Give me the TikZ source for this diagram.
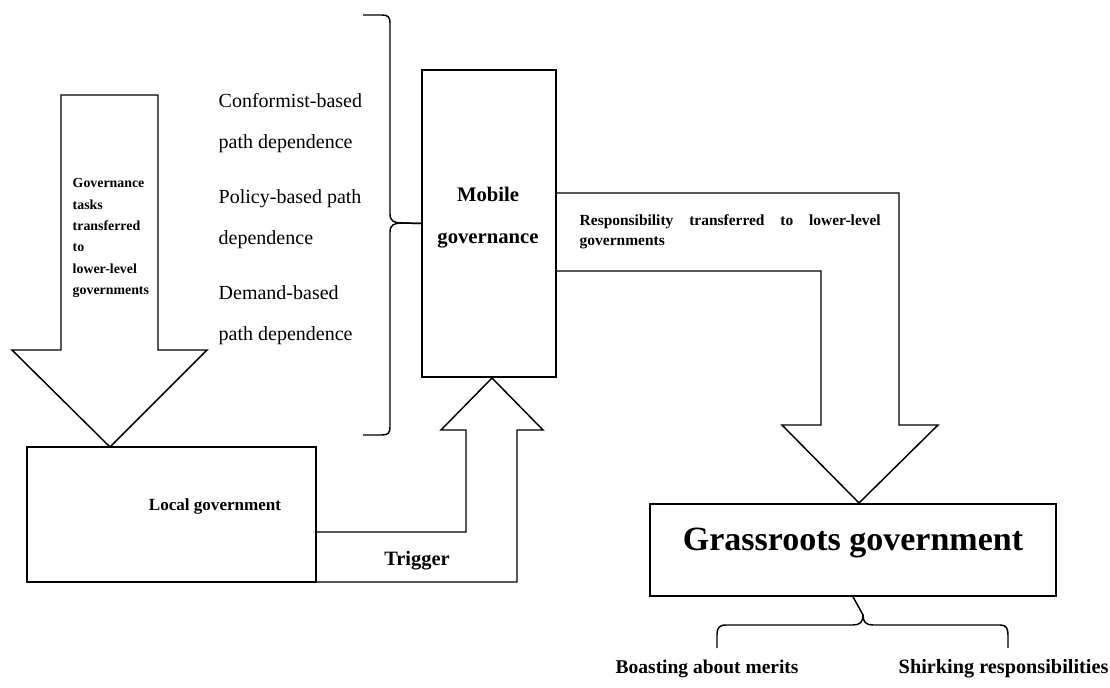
\documentclass[tikz,border=0pt]{standalone}
\usepackage{fontspec}
\setmainfont{Liberation Serif}
\usetikzlibrary{positioning,math}

\begin{document}
\begin{tikzpicture}[x=0.75pt,y=-0.75pt,line width=1.1pt,
  box/.style={draw,line width=1.1pt,inner sep=0pt},
  pathtxt/.style={anchor=west,inner sep=0pt,align=left,font=\fontsize{15}{31}\selectfont},
  boldtxt/.style={inner sep=0pt,font=\bfseries\fontsize{#1}{#1}\selectfont},
  boldtxt/.default=14.5]
\tikzmath{
\u=0.75;
}
\useasboundingbox (0,0) rectangle (1110,688);

%boxes
\node[box,minimum width=289*\u pt,minimum height=135*\u pt] (local) at (171.5,514.5) {};
\node[boldtxt=12.8] (localtxt) at (215,506) {Local government};
\node[box,minimum width=134*\u pt,minimum height=307*\u pt] (mobile) at (489,223.5) {};
\node[inner sep=0pt,align=center,font=\bfseries\fontsize{15.5}{31.5}\selectfont] (mobiletxt) at (488,218) {Mobile\\governance};
\node[box,minimum width=406*\u pt,minimum height=92*\u pt] (grass) at (853,550) {};
\node[boldtxt=25.5] (grasstxt) at (853,543) {Grassroots government};

%path dependence
\node[pathtxt] (conf) at (218,123) {Conformist-based\\path dependence};
\node[pathtxt] (policy) at (218,219) {Policy-based path\\dependence};
\node[pathtxt] (demand) at (218,315) {Demand-based\\path dependence};

%brace to mobile governance
\draw (363,15) -- (382,15) .. controls (388,15) and (390,17) .. (390,23) -- (390,214)
  .. controls (390,221) and (394,223) .. (402,223) -- (mobile.west);
\draw (mobile.west) -- (402,223) .. controls (394,223) and (390,225) .. (390,232)
  -- (390,427) .. controls (390,433) and (388,435) .. (382,435) -- (363,435);

%down arrow to local government
\draw (61,95) -- (158,95) -- (158,350) -- (207,350) -- (110,447) -- (12,350) -- (61,350) -- cycle;
\node[anchor=west,inner sep=0pt,align=left,font=\bfseries\fontsize{10.4}{16}\selectfont] (tasks) at (72,238)
  {Governance\\tasks\\transferred\\to\\lower-level\\governments};

%trigger arrow
\draw (local.east |- 0,532) -- (466,532) -- (466,430) -- (441,430) -- (492,378) -- (543,430)
  -- (517,430) -- (517,582) -- (local.east |- 0,582);
\node[boldtxt=15.3] (trigger) at (417,561) {Trigger};

%responsibility arrow
\draw (mobile.east |- 0,193) -- (899,193) -- (899,425) -- (938,425) -- (859,503) -- (782,425)
  -- (821,425) -- (821,271) -- (mobile.east |- 0,271);
\node[anchor=west,inner sep=0pt,text width=301*\u pt,align=justify,font=\bfseries\fontsize{11.6}{14.8}\selectfont] (resp) at (579,232)
  {Responsibility transferred to \mbox{lower-level} \mbox{governments}};

%brace below grassroots government
\draw (grass.south) -- (863,615) .. controls (863,622) and (860,625) .. (853,625) -- (726,625)
  .. controls (719,625) and (717,628) .. (717,635) -- (717,648);
\draw (863,615) .. controls (863,622) and (866,625) .. (873,625) -- (1000,625)
  .. controls (1006,625) and (1008,628) .. (1008,635) -- (1008,648);
\node[boldtxt=14.6,anchor=west] (boast) at (615,669) {Boasting about merits};
\node[boldtxt=15.2,anchor=west] (shirk) at (898,669) {Shirking responsibilities};

\end{tikzpicture}
\end{document}
